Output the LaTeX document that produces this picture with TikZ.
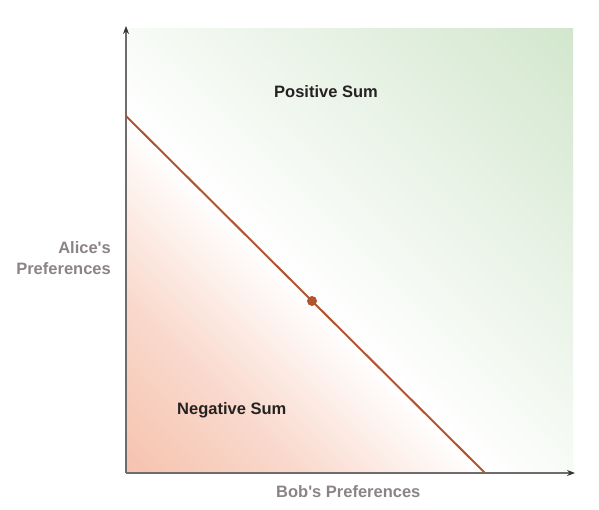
\documentclass[tikz,border=0pt]{standalone}
\usepackage{fontspec}
\newfontfamily\labfont{Liberation Sans}
\usetikzlibrary{arrows.meta}
\definecolor{salmonc}{RGB}{246,194,174}
\definecolor{greenc}{RGB}{210,230,205}
\definecolor{linec}{RGB}{178,84,46}
\definecolor{axisc}{RGB}{112,108,108}
\definecolor{darktxt}{RGB}{38,34,34}
\definecolor{graytxt}{RGB}{140,132,132}
\begin{document}
\begin{tikzpicture}[x=1pt,y=-1pt,
  axisline/.style={draw=axisc, line width=1.4pt, -{Stealth[length=8pt,width=6pt,color=black!80]}},
  sumline/.style={draw=linec, line width=2pt},
  dotnode/.style={circle, fill=linec, inner sep=0pt, minimum size=10pt},
  darklabel/.style={font=\labfont\bfseries\fontsize{16.5}{21}\selectfont, text=darktxt, inner sep=0pt},
  graylabel/.style={font=\labfont\bfseries\fontsize{16.5}{21}\selectfont, text=graytxt, inner sep=0pt}]
\useasboundingbox (0,0) rectangle (599,509);
\fill[white] (0,0) rectangle (599,509);
\coordinate (O) at (126,473);
\coordinate (Ytop) at (126,26);
\coordinate (Xend) at (575,473);
\coordinate (A) at (126,116);
\coordinate (B) at (485,473);
% positive region shading
\begin{scope}
  \clip (126,28) -- (573,28) -- (573,473) -- (B) -- (A) -- cycle;
  \begin{scope}[transform canvas={shift={(A)}, rotate=-44.84}]
    \shade[bottom color=white, top color=greenc] (-200pt,0pt) rectangle (900pt,378pt);
  \end{scope}
\end{scope}
% negative region shading
\begin{scope}
  \clip (A) -- (O) -- (B) -- cycle;
  \begin{scope}[transform canvas={shift={(A)}, rotate=-44.84}]
    \shade[top color=white, bottom color=salmonc, middle color=salmonc!62] (-200pt,-255pt) rectangle (900pt,0pt);
  \end{scope}
\end{scope}
% axes
\draw[axisline] (O) -- (Ytop);
\draw[axisline] (O) -- (Xend);
% zero-sum line
\draw[sumline] (A) -- (B);
\node[dotnode] (P) at (312,301) {};
% labels
\node[darklabel, anchor=base west] (pos) at (274,97) {Positive Sum};
\node[darklabel, anchor=base west] (neg) at (177,414) {Negative Sum};
\node[graylabel, anchor=base west] (bob) at (276,497) {Bob's Preferences};
\node[graylabel, align=right, anchor=east] (alice) at (111,258) {Alice's\\Preferences};
\end{tikzpicture}
\end{document}
